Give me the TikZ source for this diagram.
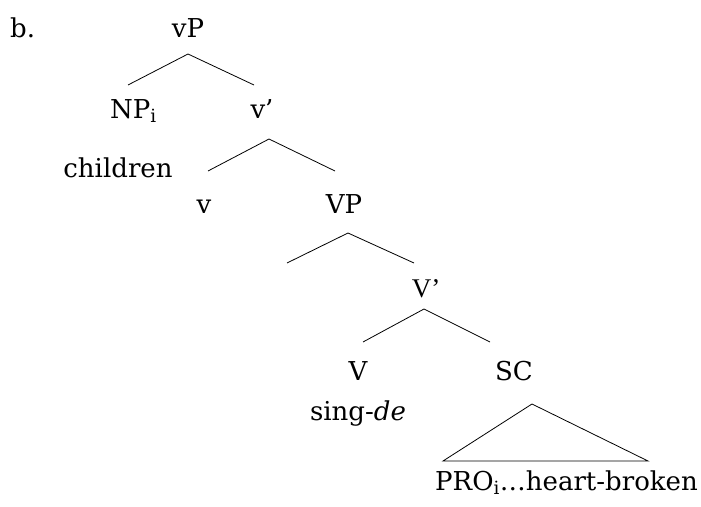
\documentclass[tikz,border=0pt]{standalone}
\usepackage{fontspec}
\setmainfont{DejaVu Serif}
\newfontfamily\timesfont{Liberation Serif}
\begin{document}
\begin{tikzpicture}[x=1pt,y=-1pt,
  lbl/.style={anchor=base,inner sep=0pt,font=\fontsize{26}{30}\selectfont},
  branch/.style={line width=0.8pt,black}]
\useasboundingbox (0,0) rectangle (701,506);
% labels
\node[lbl,anchor=base west] (b) at (10,37) {b.};
\node[lbl] (vP) at (188,37) {vP};
\node[lbl,anchor=base west] (NP) at (110,118) {NP\textsubscript{i}};
\node[lbl] (vbar) at (262,118) {v’};
\node[lbl] (children) at (118,177) {children};
\node[lbl] (v) at (204,213) {v};
\node[lbl] (VP) at (344,213) {VP};
\node[lbl,font=\fontsize{27}{30}\timesfont] (Vbar) at (426,297) {V’};
\node[lbl] (V) at (358,380) {V};
\node[lbl] (SC) at (514,380) {SC};
\node[lbl] (sing) at (358,420) {sing-\textit{de}};
\node[lbl,anchor=base east] (pro) at (698,490) {PRO\textsubscript{i}…heart-broken};
% branch points
\coordinate (a1) at (188,54);  \coordinate (l1) at (128,85);  \coordinate (r1) at (254,85);
\coordinate (a2) at (269,139); \coordinate (l2) at (208,171); \coordinate (r2) at (335,171);
\coordinate (a3) at (348,233); \coordinate (l3) at (287,263); \coordinate (r3) at (414,263);
\coordinate (a4) at (424,309); \coordinate (l4) at (363,342); \coordinate (r4) at (490,342);
\coordinate (a5) at (532,404); \coordinate (l5) at (443,461); \coordinate (r5) at (648,461);
% branches
\draw[branch] (l1) -- (a1) -- (r1);
\draw[branch] (l2) -- (a2) -- (r2);
\draw[branch] (l3) -- (a3) -- (r3);
\draw[branch] (l4) -- (a4) -- (r4);
\draw[branch] (l5) -- (a5) -- (r5) -- cycle;
\end{tikzpicture}
\end{document}
